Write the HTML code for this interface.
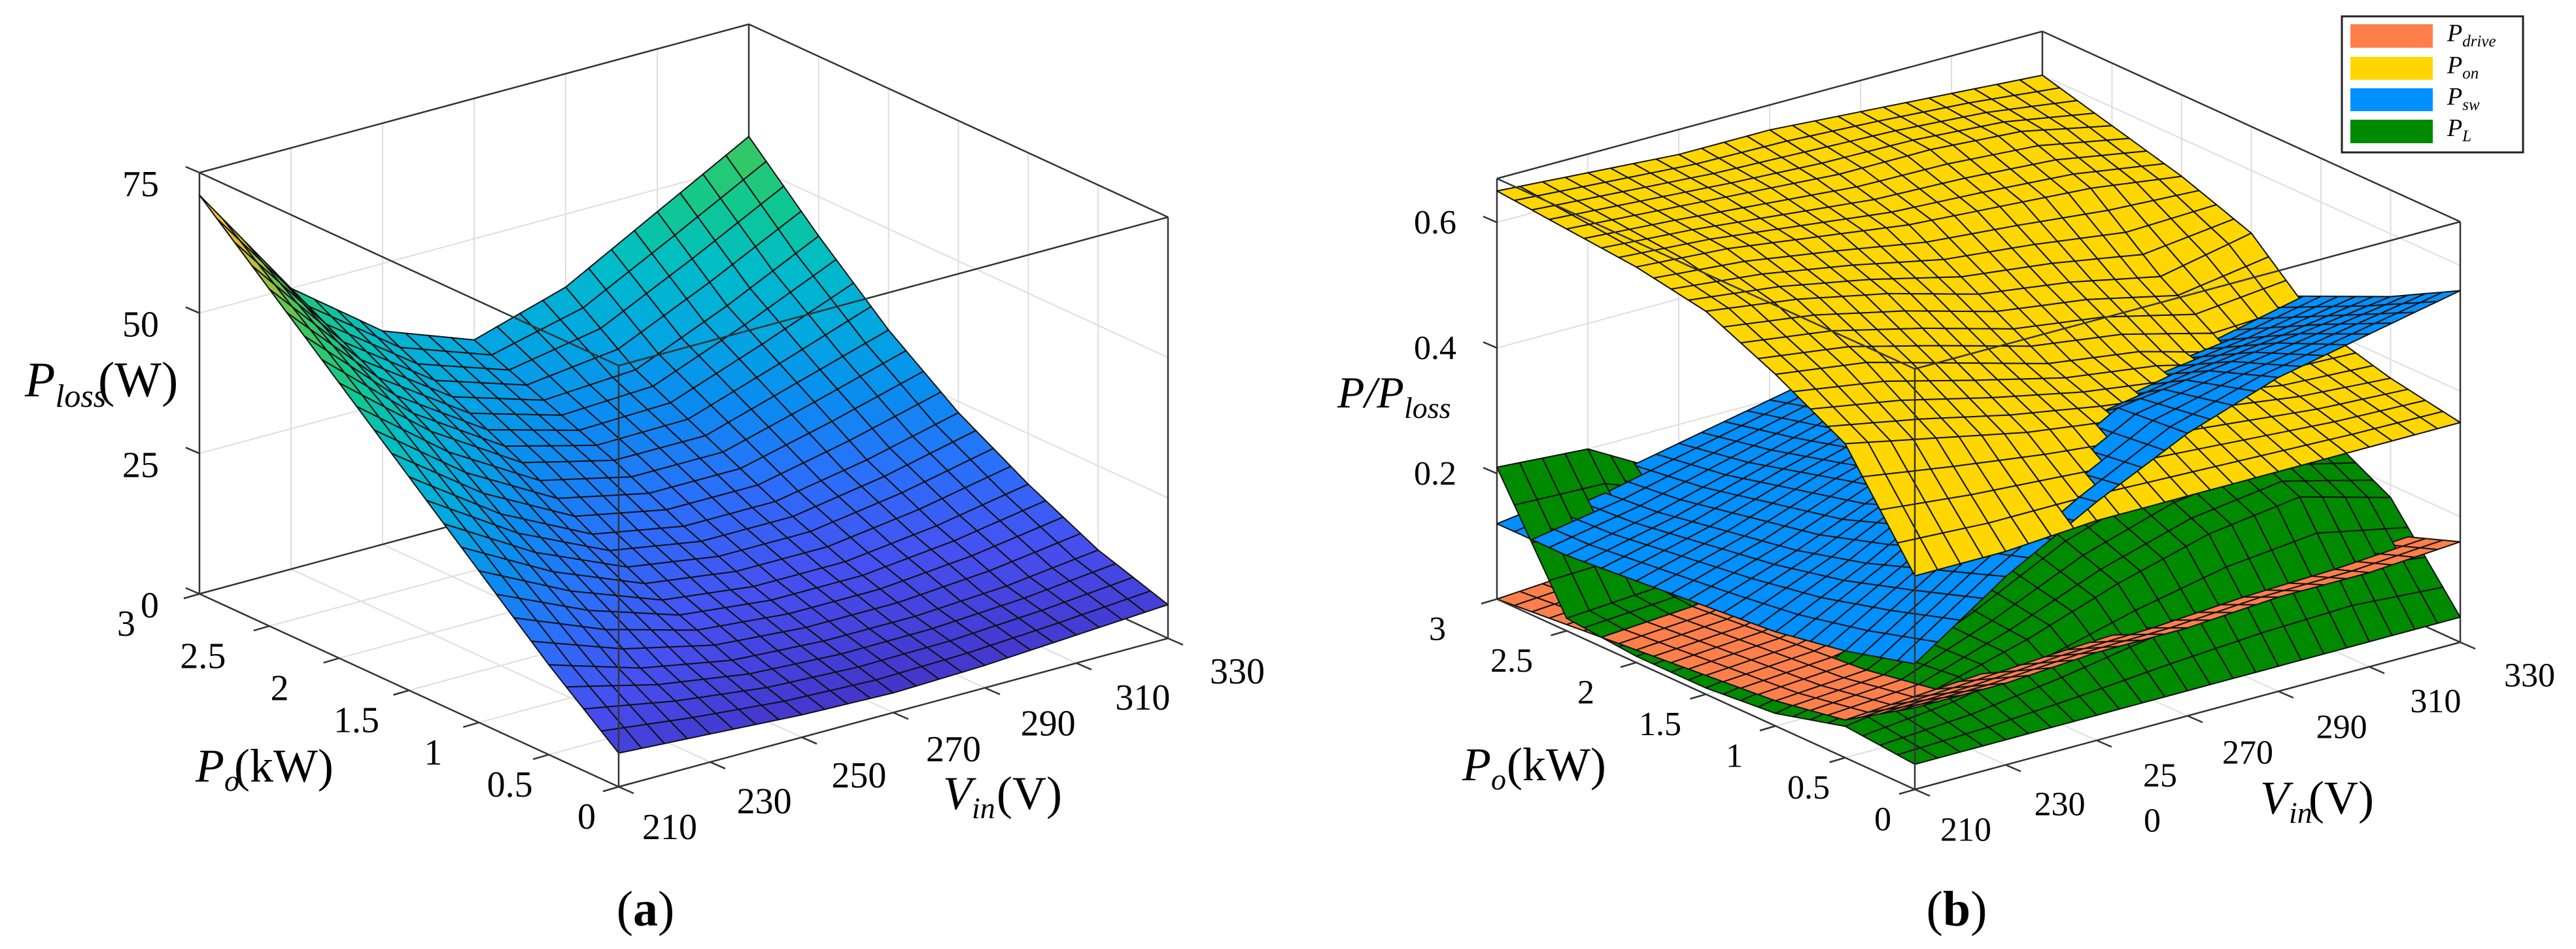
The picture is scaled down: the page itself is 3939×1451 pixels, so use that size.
<!DOCTYPE html>
<html><head><meta charset="utf-8">
<style>
html,body{margin:0;padding:0;background:#fff;}
svg{display:block;}
svg text{font-family:"Liberation Serif","Times New Roman",serif;}
</style></head>
<body>
<svg id="fig" width="3939" height="1451" viewBox="0 0 3939 1451" xmlns="http://www.w3.org/2000/svg" font-family="Liberation Serif, serif">
  <g id="chartA"></g>
  <g id="chartB"></g>
  <text x="38" y="606" font-size="76"><tspan font-style="italic">P</tspan><tspan font-style="italic" font-size="50" dy="16">loss</tspan><tspan x="150" dy="-16">(W)</tspan></text>
  <text x="299" y="1195" font-size="72"><tspan font-style="italic">P</tspan><tspan font-style="italic" font-size="46" dy="14">o</tspan><tspan x="358" dy="-14">(kW)</tspan></text>
  <text x="1442" y="1237" font-size="72"><tspan font-style="italic">V</tspan><tspan font-style="italic" font-size="46" dy="14">in</tspan><tspan x="1524" dy="-14">(V)</tspan></text>
  <text x="987" y="1415" font-size="76" text-anchor="middle">(<tspan font-weight="bold">a</tspan>)</text>

  <text x="2045" y="623" font-size="68" font-style="italic">P/P<tspan font-size="46" dy="16">loss</tspan></text>
  <text x="2236" y="1193" font-size="72"><tspan font-style="italic">P</tspan><tspan font-style="italic" font-size="46" dy="14">o</tspan><tspan x="2304" dy="-14">(kW)</tspan></text>
  <text x="3456" y="1244" font-size="72"><tspan font-style="italic">V</tspan><tspan font-style="italic" font-size="46" dy="14">in</tspan><tspan x="3530" dy="-14">(V)</tspan></text>
  <text x="2992" y="1415" font-size="76" text-anchor="middle">(<tspan font-weight="bold">b</tspan>)</text>

  <g>
    <rect x="3581" y="25" width="277" height="208" fill="#fff" stroke="#222" stroke-width="3"/>
    <rect x="3594" y="37" width="126" height="36" fill="#ff7f4a"/>
    <rect x="3594" y="87" width="126" height="35" fill="#ffd600"/>
    <rect x="3594" y="135" width="126" height="35" fill="#0090ff"/>
    <rect x="3594" y="183" width="126" height="36" fill="#008a00"/>
    <text x="3742" y="63" font-size="38" font-style="italic">P<tspan font-size="25" dy="8">drive</tspan></text>
    <text x="3742" y="112" font-size="38" font-style="italic">P<tspan font-size="25" dy="8">on</tspan></text>
    <text x="3742" y="160" font-size="38" font-style="italic">P<tspan font-size="25" dy="8">sw</tspan></text>
    <text x="3742" y="208" font-size="38" font-style="italic">P<tspan font-size="25" dy="8">L</tspan></text>
  </g>
</svg>
<script>
// ---------- data ----------
const vinValues = [210, 230, 250, 270, 290, 310, 330];
const poValues = [0, 0.5, 1, 1.5, 2, 2.5, 3];
// rows: Po = 0 .. 3, columns: Vin = 210 .. 330
const pLoss = [
  [6, 5, 4, 3.5, 4, 5, 6],
  [16, 11, 8, 7, 7, 8, 10],
  [27, 19, 13, 11, 11, 13, 16],
  [38, 27, 19, 16, 16, 19, 23],
  [49, 36, 26, 22, 22, 27, 32],
  [60, 43, 32, 27, 28, 35, 43],
  [71, 50, 38, 32, 37, 46, 55]
];
const pDrive = [
  [0.13, 0.13, 0.14, 0.14, 0.15, 0.15, 0.16],
  [0.06, 0.07, 0.08, 0.09, 0.10, 0.11, 0.12],
  [0.04, 0.05, 0.07, 0.09, 0.10, 0.10, 0.10],
  [0.03, 0.04, 0.07, 0.10, 0.11, 0.10, 0.09],
  [0.02, 0.03, 0.06, 0.09, 0.10, 0.09, 0.08],
  [0.01, 0.02, 0.04, 0.06, 0.07, 0.07, 0.07],
  [0.00, 0.01, 0.02, 0.03, 0.04, 0.05, 0.06]
];
const pOn = [
  [0.34, 0.34, 0.35, 0.35, 0.35, 0.35, 0.35],
  [0.50, 0.47, 0.44, 0.42, 0.40, 0.38, 0.37],
  [0.56, 0.54, 0.50, 0.46, 0.44, 0.40, 0.40],
  [0.61, 0.59, 0.56, 0.52, 0.50, 0.47, 0.50],
  [0.63, 0.62, 0.60, 0.58, 0.57, 0.56, 0.54],
  [0.64, 0.63, 0.62, 0.61, 0.61, 0.60, 0.57],
  [0.65, 0.64, 0.63, 0.63, 0.62, 0.61, 0.60]
];
const pSw = [
  [0.20, 0.30, 0.38, 0.45, 0.50, 0.53, 0.56],
  [0.17, 0.26, 0.36, 0.44, 0.46, 0.48, 0.50],
  [0.15, 0.22, 0.30, 0.36, 0.40, 0.42, 0.45],
  [0.14, 0.19, 0.25, 0.30, 0.33, 0.36, 0.40],
  [0.13, 0.17, 0.22, 0.26, 0.29, 0.32, 0.36],
  [0.12, 0.15, 0.19, 0.23, 0.26, 0.29, 0.33],
  [0.12, 0.14, 0.17, 0.20, 0.23, 0.26, 0.30]
];
const pL = [
  [0.04, 0.04, 0.04, 0.04, 0.04, 0.04, 0.04],
  [0.05, 0.07, 0.11, 0.16, 0.20, 0.22, 0.18],
  [0.02, 0.05, 0.12, 0.20, 0.25, 0.27, 0.24],
  [0.01, 0.03, 0.10, 0.18, 0.24, 0.27, 0.26],
  [0.01, 0.02, 0.07, 0.12, 0.18, 0.22, 0.24],
  [0.02, 0.03, 0.05, 0.08, 0.12, 0.17, 0.22],
  [0.21, 0.20, 0.12, 0.08, 0.10, 0.16, 0.25]
];
const zTicksA = [0, 25, 50, 75];
const zTicksB = [0.2, 0.4, 0.6];
const vinTickLabels = ['210', '230', '250', '270', '290', '310', '330'];
const poTickLabels = ['0', '0.5', '1', '1.5', '2', '2.5', '3'];

// ---------- helpers ----------
const NS = 'http://www.w3.org/2000/svg';
function mk(tag, attrs, parent) {
  const e = document.createElementNS(NS, tag);
  for (const k in attrs) e.setAttribute(k, attrs[k]);
  parent.appendChild(e);
  return e;
}
function makeAxes(F, U, W, zs, H) {
  return {
    F, U, W, zs, H,
    P(v, p, z) {
      const t = (v - 210) / 120, s = p / 3;
      return [F[0] + U[0] * t + W[0] * s, F[1] + U[1] * t + W[1] * s - zs * z];
    },
    floorY(v, p) { const t = (v - 210) / 120, s = p / 3; return F[1] + U[1] * t + W[1] * s; }
  };
}
const parulaStops = [
  [0.00, [60, 42, 160]], [0.06, [68, 56, 205]], [0.15, [70, 80, 240]], [0.25, [42, 112, 250]],
  [0.35, [10, 140, 240]], [0.45, [2, 168, 224]], [0.55, [0, 188, 200]], [0.65, [16, 200, 144]],
  [0.76, [64, 200, 90]], [0.85, [184, 192, 48]], [0.92, [240, 184, 48]], [1.00, [249, 240, 16]]
];
function parula(f) {
  f = Math.max(0, Math.min(1, f));
  for (let i = 1; i < parulaStops.length; i++) {
    if (f <= parulaStops[i][0]) {
      const a = parulaStops[i - 1], b = parulaStops[i];
      const r = (f - a[0]) / (b[0] - a[0]);
      const c = a[1].map((x, k) => Math.round(x + (b[1][k] - x) * r));
      return 'rgb(' + c.join(',') + ')';
    }
  }
  return 'rgb(249,240,16)';
}
function val(G, i, j) {
  const i0 = Math.min(Math.floor(i), 5), j0 = Math.min(Math.floor(j), 5);
  const fi = i - i0, fj = j - j0;
  return G[j0][i0] * (1 - fi) * (1 - fj) + G[j0][i0 + 1] * fi * (1 - fj) +
         G[j0 + 1][i0] * (1 - fi) * fj + G[j0 + 1][i0 + 1] * fi * fj;
}
function vinAt(i) { const i0 = Math.min(Math.floor(i), 5); return vinValues[i0] + (vinValues[i0 + 1] - vinValues[i0]) * (i - i0); }
function poAt(j) { const j0 = Math.min(Math.floor(j), 5); return poValues[j0] + (poValues[j0 + 1] - poValues[j0]) * (j - j0); }

function surfaceCells(ax, G, colorFn, name) {
  const N = 4, cells = [];
  for (let j = 0; j < 6 * N; j++) for (let i = 0; i < 6 * N; i++) {
    const c = [[i / N, j / N], [(i + 1) / N, j / N], [(i + 1) / N, (j + 1) / N], [i / N, (j + 1) / N]];
    let zsum = 0, fy = 0;
    const pts = c.map(([a, b]) => {
      const z = val(G, a, b), v = vinAt(a), p = poAt(b);
      zsum += z; fy += ax.floorY(v, p);
      return ax.P(v, p, z);
    });
    const zm = zsum / 4;
    cells.push({ pts, key: fy / 4 + 0.139 * ax.zs * zm, fill: colorFn(zm), name });
  }
  return cells;
}
function drawCells(g, cells) {
  cells.sort((a, b) => a.key - b.key);
  for (const c of cells) {
    const el = mk('polygon', { points: c.pts.map(p => p[0].toFixed(1) + ',' + p[1].toFixed(1)).join(' '),
      fill: c.fill, stroke: '#111', 'stroke-width': 2, 'stroke-linejoin': 'round' }, g);
    
    
  }
}
function line(g, a, b, stroke, w, name) {
  const el = mk('line', { x1: a[0], y1: a[1], x2: b[0], y2: b[1], stroke, 'stroke-width': w }, g);
  
  
  return el;
}
function label(g, x, y, fs, anchor, txt, name) {
  const t = mk('text', { x, y, 'font-size': fs, 'text-anchor': anchor, 'font-family': 'Liberation Serif, serif' }, g);
  
  
  t.textContent = txt;
  return t;
}
function drawBack(g, ax, zTicks, zmax) {
  const grid = '#dedede';
  for (const v of vinValues) line(g, ax.P(v, 0, 0), ax.P(v, 3, 0), grid, 2, 'floor-gridline');
  for (const p of poValues) line(g, ax.P(210, p, 0), ax.P(330, p, 0), grid, 2, 'floor-gridline');
  for (const v of vinValues) line(g, ax.P(v, 3, 0), ax.P(v, 3, zmax), grid, 2, 'wall-gridline');
  for (const p of poValues) line(g, ax.P(330, p, 0), ax.P(330, p, zmax), grid, 2, 'wall-gridline');
  for (const z of zTicks) {
    line(g, ax.P(210, 3, z), ax.P(330, 3, z), grid, 2, 'wall-gridline');
    line(g, ax.P(330, 3, z), ax.P(330, 0, z), grid, 2, 'wall-gridline');
  }
  const bc = '#333';
  line(g, ax.P(210, 3, 0), ax.P(330, 3, 0), bc, 2.5, 'box-edge');
  line(g, ax.P(330, 3, 0), ax.P(330, 0, 0), bc, 2.5, 'box-edge');
  line(g, ax.P(330, 3, 0), ax.P(330, 3, zmax), bc, 2.5, 'box-edge');
  line(g, ax.P(210, 3, 0), ax.P(210, 3, zmax), bc, 2.5, 'z-axis-line');
  line(g, ax.P(330, 0, 0), ax.P(330, 0, zmax), bc, 2.5, 'box-edge');
  line(g, ax.P(210, 3, zmax), ax.P(330, 3, zmax), bc, 2.5, 'box-edge');
  line(g, ax.P(330, 3, zmax), ax.P(330, 0, zmax), bc, 2.5, 'box-edge');
}
function drawFront(g, ax, zmax, zTicks, zLabels, zLabelDy, fs, poK, b250) {
  const bc = '#333';
  line(g, ax.P(210, 0, 0), ax.P(210, 3, 0), bc, 2.5, 'po-axis-line');
  line(g, ax.P(210, 0, 0), ax.P(330, 0, 0), bc, 2.5, 'vin-axis-line');
  line(g, ax.P(210, 0, 0), ax.P(210, 0, zmax), bc, 2.5, 'box-edge');
  line(g, ax.P(210, 0, zmax), ax.P(210, 3, zmax), bc, 2.5, 'box-edge');
  line(g, ax.P(210, 0, zmax), ax.P(330, 0, zmax), bc, 2.5, 'box-edge');
  zTicks.forEach((z, k) => {
    const p = ax.P(210, 3, z);
    line(g, p, [p[0] - 21, p[1] - 9], bc, 2.5, 'z-tick');
    label(g, p[0] - 62, p[1] + zLabelDy, fs, 'end', zLabels[k], 'z-tick-label');
  });
  poValues.forEach((p, k) => {
    const q = ax.P(210, p, 0);
    line(g, q, [q[0] - 24, q[1] + 7], bc, 2.5, 'po-tick');
    label(g, q[0] - 49 + poK * p, q[1] + 44 + 0.36 * fs, fs, 'middle', poTickLabels[k], 'po-tick-label');
  });
  vinValues.forEach((v, k) => {
    const q = ax.P(v, 0, 0), tt = (v - 210) / 120;
    line(g, q, [q[0] + 23, q[1] + 10], bc, 2.5, 'vin-tick');
    if (b250 && v === 250) {
      label(g, q[0] + 97, q[1] + 52 + 0.36 * fs, fs, 'middle', vinTickLabels[k].slice(0, 2), 'vin-tick-label');
      label(g, q[0] + 85, q[1] + 121 + 0.36 * fs, fs, 'middle', vinTickLabels[k].slice(2), 'vin-tick-label');
      return;
    }
    label(g, q[0] + 78 + 28 * tt, q[1] + 60 - 11 * tt + 0.36 * fs, fs, 'middle', vinTickLabels[k], 'vin-tick-label');
  });
}

// ---------- chart (a) ----------
const gA = document.getElementById('chartA');
const axA = makeAxes([946, 1203], [840, -227], [-641, -295], 644 / 75, 644);
drawBack(gA, axA, zTicksA, 75);
drawCells(gA, surfaceCells(axA, pLoss, z => parula(z / 72), 'loss-surface-cell'));
drawFront(gA, axA, 75, zTicksA, zTicksA.map(String), 36, 56, -21, false);

// ---------- chart (b) ----------
const gB = document.getElementById('chartB');
const axB = makeAxes([2928, 1207], [834, -225], [-639, -291], 960, 643);
const zmaxB = 643 / 960;
drawBack(gB, axB, zTicksB, zmaxB);
let cellsB = [];
cellsB = cellsB.concat(surfaceCells(axB, pDrive, () => '#ff7f4a', 'drive-surface-cell'));
cellsB = cellsB.concat(surfaceCells(axB, pOn, () => '#ffd600', 'on-surface-cell'));
cellsB = cellsB.concat(surfaceCells(axB, pSw, () => '#0090ff', 'sw-surface-cell'));
cellsB = cellsB.concat(surfaceCells(axB, pL, () => '#008a00', 'l-surface-cell'));
drawCells(gB, cellsB);
drawFront(gB, axB, zmaxB, zTicksB, zTicksB.map(z => z.toFixed(1)), 17, 52, -14, true);
</script>
</body></html>
